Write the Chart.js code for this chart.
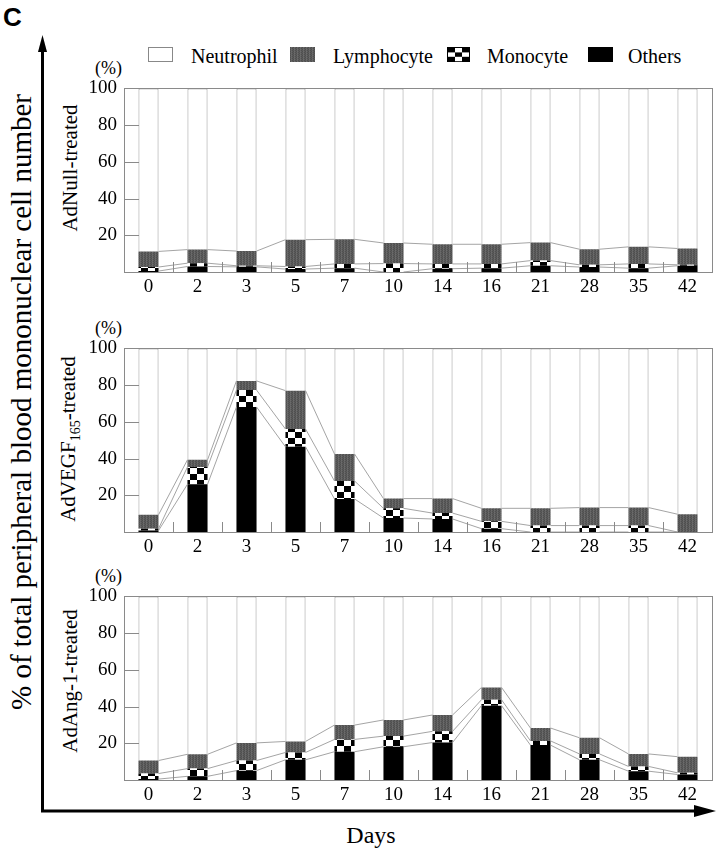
<!DOCTYPE html>
<html>
<head>
<meta charset="utf-8">
<script src="https://cdn.jsdelivr.net/npm/chart.js@4.4.1/dist/chart.umd.min.js"></script>
<style>
  html, body { margin:0; padding:0; background:#fff; }
  body { width:723px; height:853px; position:relative; overflow:hidden; font-family:"Liberation Serif","Times New Roman",serif; color:#000; }
  .abs { position:absolute; }
  canvas.panel { position:absolute; left:64px; }
  .rot { position:absolute; transform:translate(-50%,-50%) rotate(-90deg); white-space:nowrap; }
  .lg { position:absolute; font-size:20px; line-height:20px; white-space:nowrap; }
  .pct { position:absolute; font-size:18px; line-height:18px; }
</style>
</head>
<body>
<div class="abs" style="left:3px;top:2px;font-family:'Liberation Sans',Arial,sans-serif;font-weight:bold;font-size:26px;">C</div>

<canvas id="lgN" class="abs" width="25" height="15" style="left:148px;top:47px;"></canvas>
<div class="lg" style="left:191px;top:46px;">Neutrophil</div>
<canvas id="lgL" class="abs" width="25" height="15" style="left:290px;top:47px;"></canvas>
<div class="lg" style="left:333px;top:46px;">Lymphocyte</div>
<canvas id="lgM" class="abs" width="23" height="15" style="left:447px;top:47px;"></canvas>
<div class="lg" style="left:487px;top:46px;">Monocyte</div>
<canvas id="lgO" class="abs" width="25" height="15" style="left:588px;top:47px;"></canvas>
<div class="lg" style="left:628px;top:46px;">Others</div>

<div class="pct" style="left:95px;top:59px;">(%)</div>
<div class="pct" style="left:95px;top:319px;">(%)</div>
<div class="pct" style="left:95px;top:567px;">(%)</div>

<div class="rot" style="left:70px;top:168px;font-size:21px;">AdNull-treated</div>
<div class="rot" style="left:70px;top:439px;font-size:21px;">AdVEGF<sub style="font-size:14px;">165</sub>-treated</div>
<div class="rot" style="left:70px;top:681px;font-size:21px;">AdAng-1-treated</div>

<div class="rot" style="left:21px;top:402px;font-size:29px;">% of total peripheral blood mononuclear cell number</div>
<div class="abs" style="left:371px;top:835px;transform:translate(-50%,-50%);font-size:24px;">Days</div>

<canvas id="c1" class="panel" width="659" height="230" style="top:70px;"></canvas>
<canvas id="c2" class="panel" width="659" height="230" style="top:330px;"></canvas>
<canvas id="c3" class="panel" width="659" height="230" style="top:578px;"></canvas>

<svg class="abs" style="left:0;top:0;" width="723" height="853">
  <line x1="42.5" y1="812" x2="42.5" y2="48" stroke="#000" stroke-width="3"/>
  <polygon points="42.5,35 38,52 47,52" fill="#000"/>
  <line x1="41" y1="811" x2="700" y2="811" stroke="#000" stroke-width="3"/>
  <polygon points="716,811 694,805 694,817" fill="#000"/>
</svg>

<script>
// ---- data ----
const days = ['0','2','3','5','7','10','14','16','21','28','35','42'];
const yTicks = [20, 40, 60, 80, 100];

const nullOthers = [0.5, 3.0, 2.8, 1.6, 2.1, 0.0, 1.8, 2.1, 3.4, 2.7, 2.1, 3.4];
const nullMono   = [2.2, 1.8, 0.6, 1.4, 2.3, 4.6, 2.6, 2.3, 2.8, 1.2, 2.3, 0.5];
const nullLymph  = [8.5, 7.4, 8.0, 14.6, 13.4, 11.2, 10.7, 10.7, 9.8, 8.5, 9.3, 8.9];
const nullNeutro = [88.8, 87.8, 88.6, 82.4, 82.2, 84.2, 84.9, 84.9, 84.0, 87.6, 86.3, 87.2];

const vegfOthers = [0.8, 26.0, 68.1, 46.4, 18.0, 7.6, 7.1, 1.8, 0.0, 0.0, 0.0, 0.0];
const vegfMono   = [1.0, 9.4, 9.2, 9.7, 9.8, 5.3, 3.2, 4.0, 3.5, 3.5, 3.5, 0.0];
const vegfLymph  = [7.6, 3.9, 5.0, 20.9, 14.7, 5.3, 7.9, 7.1, 9.4, 9.8, 9.8, 9.7];
const vegfNeutro = [90.6, 60.7, 17.7, 23.0, 57.5, 81.8, 81.8, 87.1, 87.1, 86.7, 86.7, 90.3];

const angOthers = [0.5, 2.0, 5.1, 11.0, 15.4, 18.1, 20.4, 40.5, 19.0, 11.0, 4.8, 3.0];
const angMono   = [3.0, 4.2, 5.5, 4.0, 6.7, 5.8, 6.1, 3.2, 2.3, 3.2, 2.6, 0.9];
const angLymph  = [7.1, 7.8, 9.6, 6.0, 7.8, 8.8, 8.9, 6.7, 7.0, 8.8, 6.8, 8.8];
const angNeutro = [89.4, 86.0, 79.8, 79.0, 70.1, 67.3, 64.6, 49.6, 71.7, 77.0, 85.8, 87.3];

// ---- patterns ----
function makeLymphPattern(ctx) {
  const c = document.createElement('canvas'); c.width = 3; c.height = 2;
  const g = c.getContext('2d');
  const cols = [['#4e4e4e', '#6c6c6c', '#5c5c5c'], ['#5a5a5a', '#636363', '#4f4f4f']];
  for (let y = 0; y < 2; y++) for (let x = 0; x < 3; x++) {
    g.fillStyle = cols[y][x];
    g.fillRect(x, y, 1, 1);
  }
  return ctx.createPattern(c, 'repeat');
}
function makeMonoPattern(ctx) {
  const c = document.createElement('canvas'); c.width = 14; c.height = 12;
  const g = c.getContext('2d');
  g.fillStyle = '#fff'; g.fillRect(0, 0, 14, 12);
  g.fillStyle = '#000'; g.fillRect(0, 0, 7, 6); g.fillRect(7, 6, 7, 6);
  return ctx.createPattern(c, 'repeat');
}

// legend swatches
(function () {
  const n = document.getElementById('lgN').getContext('2d');
  n.fillStyle = '#fff'; n.fillRect(0, 0, 25, 15); n.strokeStyle = '#888'; n.strokeRect(0.5, 0.5, 24, 14);
  const l = document.getElementById('lgL').getContext('2d');
  l.fillStyle = makeLymphPattern(l); l.fillRect(0, 0, 25, 15);
  const m = document.getElementById('lgM').getContext('2d');
  m.fillStyle = '#000'; m.fillRect(0, 0, 23, 15);
  m.fillStyle = '#fff';
  for (let i = 0; i < 3; i++) for (let j = 0; j < 3; j++) if ((i + j) % 2 === 1) m.fillRect(1 + i * 7, 1 + j * 4.4, 7, 4.4);
  const o = document.getElementById('lgO').getContext('2d');
  o.fillStyle = '#000'; o.fillRect(0, 0, 25, 15);
})();

// plugin: frame, inner ticks, connector lines
const framePlugin = {
  id: 'frame',
  afterDatasetsDraw(chart) {
    const { ctx, chartArea: a, scales } = chart;
    const x = scales.x, y = scales.y;
    ctx.save();
    ctx.strokeStyle = '#9a9a9a';
    ctx.lineWidth = 0.9;
    for (let d = 0; d < 3; d++) {
      const meta = chart.getDatasetMeta(d);
      for (let i = 0; i < meta.data.length - 1; i++) {
        const p = meta.data[i], q = meta.data[i + 1];
        ctx.beginPath();
        ctx.moveTo(p.x + p.width / 2, p.y);
        ctx.lineTo(q.x - q.width / 2, q.y);
        ctx.stroke();
      }
    }
    ctx.strokeStyle = '#8a8a8a';
    ctx.lineWidth = 1;
    yTicks.forEach(v => {
      if (v >= 100) return;
      const py = Math.round(y.getPixelForValue(v)) + 0.5;
      ctx.beginPath(); ctx.moveTo(a.left, py); ctx.lineTo(a.left + 15, py); ctx.stroke();
    });
    const n = days.length;
    for (let i = 1; i < n; i++) {
      const px = Math.round((x.getPixelForValue(i - 1) + x.getPixelForValue(i)) / 2) + 0.5;
      ctx.beginPath(); ctx.moveTo(px, a.bottom); ctx.lineTo(px, a.bottom - 10); ctx.stroke();
    }
    ctx.strokeRect(Math.round(a.left) + 0.5, Math.round(a.top) + 0.5, Math.round(a.right - a.left), Math.round(a.bottom - a.top));
    ctx.restore();
  }
};

function makeChart(id, others, mono, lymph, neutro) {
  const cv = document.getElementById(id);
  const ctx = cv.getContext('2d');
  const common = { stack: 's', barPercentage: 0.41, categoryPercentage: 1.0, borderWidth: 0 };
  return new Chart(ctx, {
    type: 'bar',
    data: {
      labels: days,
      datasets: [
        Object.assign({ label: 'Others', data: others, backgroundColor: '#000' }, common),
        Object.assign({ label: 'Monocyte', data: mono, backgroundColor: makeMonoPattern(ctx) }, common),
        Object.assign({ label: 'Lymphocyte', data: lymph, backgroundColor: makeLymphPattern(ctx) }, common),
        Object.assign({}, common, { label: 'Neutrophil', data: neutro, backgroundColor: '#fff', borderColor: '#999', borderWidth: 1, borderSkipped: 'start' })
      ]
    },
    options: {
      responsive: false,
      animation: false,
      devicePixelRatio: 1,
      layout: { padding: { top: 14, right: 11, bottom: 0, left: 0 } },
      plugins: { legend: { display: false }, tooltip: { enabled: false } },
      scales: {
        x: {
          stacked: true,
          grid: { display: false, drawTicks: false },
          border: { display: false },
          ticks: { color: '#000', font: { family: 'Liberation Serif', size: 19 }, padding: 4, maxRotation: 0, autoSkip: false },
          afterFit(s) { s.height = 28; }
        },
        y: {
          stacked: true,
          min: 0, max: 100,
          grid: { display: false, drawTicks: false },
          border: { display: false },
          ticks: {
            stepSize: 20, color: '#000', padding: 7,
            font: { family: 'Liberation Serif', size: 19 },
            callback: v => (yTicks.includes(v) ? String(v) : '')
          },
          afterFit(s) { s.width = 60; }
        }
      }
    },
    plugins: [framePlugin]
  });
}

makeChart('c1', nullOthers, nullMono, nullLymph, nullNeutro);
makeChart('c2', vegfOthers, vegfMono, vegfLymph, vegfNeutro);
makeChart('c3', angOthers, angMono, angLymph, angNeutro);
</script>
</body>
</html>
